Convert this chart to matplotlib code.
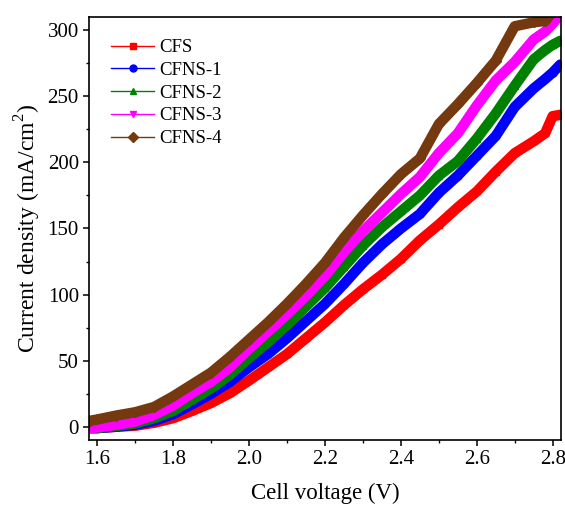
import matplotlib
matplotlib.use("Agg")
import matplotlib.pyplot as plt
from matplotlib.lines import Line2D

plt.rcParams['font.family'] = ['Liberation Serif', 'DejaVu Serif']
plt.rcParams['mathtext.fontset'] = 'custom'
plt.rcParams['mathtext.rm'] = 'Liberation Serif'

# Cell voltage (V)
voltage = [1.58, 1.60, 1.65, 1.70, 1.75, 1.80, 1.85, 1.90, 1.95, 2.00,
           2.05, 2.10, 2.15, 2.20, 2.25, 2.30, 2.35, 2.40, 2.45, 2.50,
           2.55, 2.60, 2.65, 2.70, 2.75, 2.78, 2.80, 2.82]

# Current density (mA/cm^2) for each electrode
cfs = [-1, -1, 0, 0.8, 3, 6.5, 12, 18, 25.5, 35,
       45, 55, 67, 79, 92, 104, 115, 127, 141, 153,
       166, 178, 193, 207, 216, 222, 235, 236]
cfns1 = [-1, -1, 0, 1.5, 4.5, 9.5, 17, 25, 34, 45,
         55, 67, 80, 93, 108, 124, 138, 150, 161, 177,
         190, 205, 220, 242, 256, 263, 268, 274]
cfns2 = [-1, -1, 0.5, 2.5, 6.5, 12, 20.5, 29, 39.5, 52,
         64, 77, 91, 105, 121, 137, 151, 163, 175, 190,
         201, 218, 237, 258, 278, 285, 289, 292]
cfns3 = [-1, -0.5, 1.5, 4, 9, 16, 25.5, 34, 45, 59,
         72, 85, 99, 114, 132, 148, 162, 176, 189, 207,
         222, 243, 262, 276, 293, 299, 305, 312]
cfns4 = [4.5, 5.5, 8.5, 11, 15, 23, 32, 41, 53, 66,
         79, 93, 108, 124, 143, 160, 176, 191, 203, 229,
         244, 260, 277, 303, 306, 307, 314, 320]

labels = ['CFS', 'CFNS-1', 'CFNS-2', 'CFNS-3', 'CFNS-4']
colors = ['#FF0000', '#0000FF', '#008000', '#FF00FF', '#74390F']
markers = ['s', 'o', '^', 'v', 'D']
series = [cfs, cfns1, cfns2, cfns3, cfns4]

fig = plt.figure(figsize=(5.65, 5.09), dpi=100)
ax = fig.add_axes([0.158, 0.1356, 0.835, 0.831])

# thick bands of densely packed markers
for y, c, m in zip(series, colors, markers):
    ax.plot(voltage, y, color=c, lw=7.5, marker=m, ms=5,
            solid_capstyle='round', solid_joinstyle='round')

ax.set_xlim(1.579, 2.822)
ax.set_ylim(-10, 310)
ax.set_xticks([1.6, 1.8, 2.0, 2.2, 2.4, 2.6, 2.8])
ax.set_xticks([1.7, 1.9, 2.1, 2.3, 2.5, 2.7], minor=True)
ax.set_yticks([0, 50, 100, 150, 200, 250, 300])
ax.set_yticks([25, 75, 125, 175, 225, 275], minor=True)
ax.tick_params(which='major', direction='out', length=4, width=1.1,
               labelsize=15, top=False, right=False)
ax.tick_params(which='minor', direction='out', length=2.5, width=1.0,
               top=False, right=False)
for s in ax.spines.values():
    s.set_linewidth(1.2)

ax.set_xlabel('Cell voltage (V)', fontsize=16.5, labelpad=10)
ax.set_ylabel('Current density (mA/cm$^2$)', fontsize=17, labelpad=3)

handles = [Line2D([], [], color=c, lw=1, marker=m, ms=5)
           for c, m in zip(colors, markers)]
ax.legend(handles, labels, loc='upper left', bbox_to_anchor=(0.046, 0.948),
          frameon=False, fontsize=13.5, handlelength=2.3, handletextpad=0.25,
          labelspacing=0.3, borderpad=0, borderaxespad=0)

fig.savefig('out.png', dpi=100)
